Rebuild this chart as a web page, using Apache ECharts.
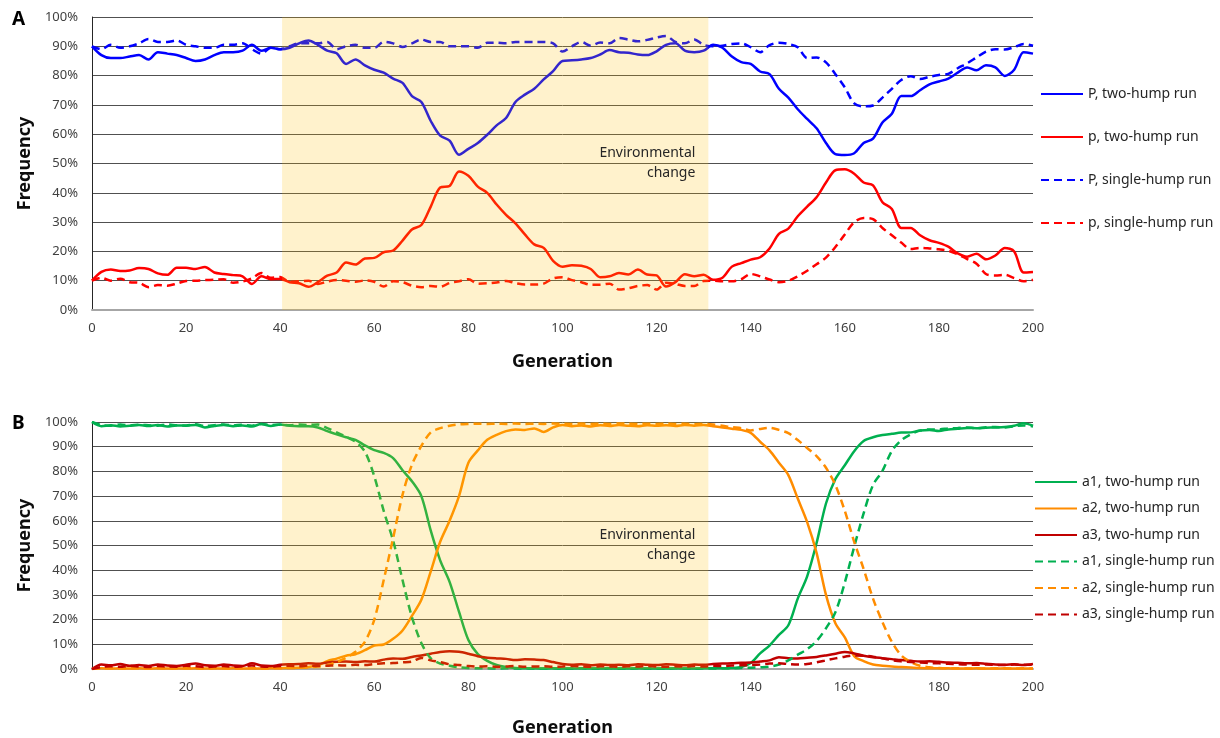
<!DOCTYPE html>
<html>
<head>
<meta charset="utf-8">
<script src="https://cdn.jsdelivr.net/npm/echarts@6/dist/echarts.min.js"></script>
<style>
html,body{margin:0;padding:0;background:#fff;}
#chart{width:1220px;height:738px;}
</style>
</head>
<body>
<div id="chart"></div>
<script>
// Generations sampled every 2 (0..200)
var generations = [];
for (var g = 0; g <= 200; g += 2) generations.push(g);

var xTicks = [0, 20, 40, 60, 80, 100, 120, 140, 160, 180, 200];
var envChange = [40.4, 131];

// Panel A
var P_two = [90, 87, 86, 86, 86.5, 87, 85.5, 88, 87.5, 87, 86, 85, 85.5, 87, 88, 88, 88.5, 90.5, 88.5, 89.5, 89,
  89.5, 91, 92, 90.5, 88.5, 87.6, 84, 85.5, 83.5, 82, 81, 79, 77.5, 73, 71, 64.5, 59.5, 57.8, 53, 55,
  57, 59.8, 63, 65.5, 71, 73.5, 75.5, 78.7, 81.5, 85, 85.2, 85.5, 86, 87.2, 88.7, 88, 87.8, 87.2, 87, 88.3,
  90.5, 91, 88.5, 88, 88.5, 90.5, 89.5, 86.5, 84.6, 84, 81.4, 80.5, 75.5, 72.5, 68.5, 65.2, 62, 57, 53.2, 52.9,
  53.5, 57, 58.5, 64, 67, 73, 73, 75, 77, 78, 79, 81, 82.8, 81.8, 83.5, 82.8, 79.9, 82, 88, 87.5];
var p_two = [10, 13, 13.8, 13.3, 13.5, 14.3, 14, 12.5, 12, 14.4, 14.4, 14, 14.7, 12.8, 12.3, 11.9, 11.5, 8.9, 11.5, 10.5, 10.6,
  9.5, 9.1, 7.9, 9.5, 11.7, 12.8, 16.2, 15.5, 17.6, 17.8, 19.7, 20.3, 23.7, 27.5, 29, 35.3, 41.8, 42.3, 47.3, 45.8,
  42.1, 40, 36, 32.5, 29.6, 25.8, 22.4, 21.2, 16.8, 14.8, 15.3, 15.1, 14, 11.2, 11.5, 12.6, 12.1, 13.8, 12.1, 11.8,
  8, 9.5, 12.2, 11.5, 12, 10.3, 11, 14.8, 16, 17.2, 18, 21, 26, 27.8, 32, 35.3, 38.5, 43.5, 47.7, 48,
  46.5, 43.5, 42.5, 36.8, 34.5, 28, 28, 25.5, 23.8, 22.9, 21.6, 19.3, 18.2, 19.2, 17.3, 18.6, 21.2, 20, 12.8, 13];
var P_single = [90, 89, 90.5, 89.5, 90, 91, 92.5, 91.5, 91.5, 92, 90.5, 90, 89.5, 89.5, 90.5, 90.5, 91, 89, 87.5, 89.5, 89,
  90, 91, 91, 91, 91.5, 89, 90, 90.5, 89.5, 89.5, 91.5, 91, 89.8, 91, 92.3, 91.5, 91.5, 90, 90, 90,
  89.5, 91.2, 91.2, 91, 91.5, 91.5, 91.5, 91.5, 91, 88.2, 90, 91.5, 90.2, 91.3, 91, 92.8, 92.3, 91.7, 92.2, 93,
  93.5, 91.5, 91, 92.3, 90.5, 90, 90.2, 90.8, 91, 89.7, 88, 90.4, 91.2, 90.8, 89.7, 86, 86.2, 84.5, 80.5, 76,
  70.5, 69.5, 69.8, 72.5, 75.5, 78.5, 79.8, 78.8, 79.6, 80.2, 80.6, 82.5, 84.2, 86.2, 88.2, 89, 88.9, 89.7, 90.8, 90.2];
var p_single = [10, 11, 10, 10.7, 9.5, 9.3, 7.8, 8.5, 8.3, 9, 9.9, 10, 10.2, 10.3, 10.5, 9.3, 9.7, 10.8, 12.6, 11, 11.3,
  9.6, 9.8, 10, 8.9, 9.7, 10.2, 10, 9.6, 10.1, 9.6, 8, 9.8, 9.5, 8.3, 7.8, 8.2, 7.9, 9.2, 9.8, 10.5,
  9, 9.1, 9.4, 9.9, 9.2, 8.7, 8.7, 9, 10.8, 11.2, 10.2, 9.5, 8.6, 8.6, 9, 7, 7.4, 8.2, 8.5, 7,
  9.3, 8.9, 8.2, 8.2, 9.9, 10, 9.8, 9.8, 10.5, 12.3, 11.5, 10.4, 9.5, 10, 11.5, 13.4, 15.6, 17.9, 21.5, 25.8,
  30, 31.4, 31, 28, 25.5, 23, 20.8, 21.2, 21, 20.7, 20.2, 19, 17.4, 15.8, 12.3, 11.8, 12, 10.9, 9.8, 10.3];

// Panel B
var a1_two = [100, 98.3, 98.7, 98.2, 98.5, 98.8, 98.4, 98.8, 98.2, 98.6, 98.5, 98.8, 97.8, 98.4, 98.8, 98.3, 98.6, 98.2, 99.2, 98.4, 99,
  98.5, 98.3, 98.3, 97.8, 96.3, 95, 93.8, 92.8, 90.5, 88.6, 87.5, 85.4, 80.5, 76, 70, 56, 44, 35.3, 23.2, 11.7,
  6, 3.3, 1.6, 0.8, 0.4, 0.3, 0.3, 0.2, 0.3, 0.2, 0.2, 0.3, 0.2, 0.2, 0.3, 0.2, 0.2, 0.3, 0.2, 0.2,
  0.2, 0.3, 0.2, 0.2, 0.3, 0.3, 0.3, 0.4, 0.8, 2.4, 6.3, 9.5, 13.8, 17.7, 28.5, 37.5, 51, 67, 76.9, 82.5,
  88.2, 92.3, 93.8, 94.7, 95.2, 95.7, 95.8, 96.6, 96.8, 96.4, 97, 97.3, 97.6, 97.5, 97.7, 97.8, 98, 98.5, 99.5, 98.5];
var a2_two = [0, 0.3, 0.2, 0.3, 0.2, 0.3, 0.2, 0.3, 0.2, 0.3, 0.2, 0.3, 0.2, 0.3, 0.2, 0.3, 0.2, 0.3, 0.2, 0.3, 0.3,
  0.4, 0.5, 0.8, 1.5, 3.2, 4.2, 5.4, 6, 7.6, 9.5, 9.9, 12.2, 15.6, 21.5, 28, 39.5, 51.5, 60, 70, 83.5,
  88.5, 92.8, 94.8, 96.3, 97, 96.8, 97.4, 96, 97.8, 98.8, 98.3, 98.6, 98.2, 98.7, 98.4, 98.8, 98.5, 98.3, 98.7, 98.5,
  98.7, 98.4, 98.8, 98.5, 98.8, 98.3, 97.8, 97.3, 96.8, 95.6, 92, 88.5, 83.5, 78.5, 69, 59.5, 47, 30, 18.5, 12.8,
  5.2, 3.2, 1.8, 1.3, 1, 0.8, 0.6, 0.4, 0.3, 0.3, 0.3, 0.2, 0.2, 0.3, 0.2, 0.2, 0.3, 0.2, 0.2, 0.2];
var a3_two = [0, 1.8, 1.5, 2, 1.3, 1.6, 1.2, 1.8, 1.4, 1.2, 1.7, 2.2, 1.5, 1.3, 1.8, 1.4, 1.2, 2.3, 1.4, 1.2, 1.7,
  1.9, 2, 2.3, 2.1, 2.6, 2.9, 3, 2.8, 3.1, 3, 3.8, 4.3, 4.1, 4.9, 5.5, 6.2, 6.9, 7.2, 7, 6.2,
  5.2, 4.6, 4.3, 4.1, 3.6, 3.9, 3.8, 3.6, 2.8, 2, 1.7, 1.9, 1.5, 1.8, 1.6, 1.7, 1.5, 1.9, 1.7, 1.6,
  1.9, 1.7, 1.5, 1.8, 1.7, 2, 2.2, 2.3, 2.5, 2.6, 3, 3.5, 4.8, 4.4, 4.3, 4.6, 4.9, 5.5, 6.2, 6.9,
  6.3, 5.4, 4.8, 4.4, 4, 3.6, 3.3, 3, 3.1, 2.9, 2.6, 2.5, 2.3, 2.4, 2.1, 1.8, 1.7, 1.9, 1.6, 2];
var a1_single = [100, 98.8, 98.5, 99, 98.6, 98.9, 98.7, 98.5, 99, 98.7, 98.6, 99.1, 98.4, 98.7, 99, 98.6, 98.9, 98.5, 99.2, 98.8, 98.9,
  98.7, 99, 98.8, 99, 97.5, 95.8, 94, 92, 88, 78, 64, 52, 36, 21, 10.5, 4.3, 2.2, 1.3, 0.7, 0.4,
  0.3, 0.3, 0.2, 0.3, 0.2, 0.3, 0.2, 0.2, 0.3, 0.2, 0.2, 0.3, 0.2, 0.2, 0.3, 0.2, 0.2, 0.3, 0.2, 0.2,
  0.2, 0.3, 0.2, 0.2, 0.3, 0.2, 0.3, 0.3, 0.4, 0.5, 0.7, 1, 1.8, 3.5, 5.8, 8, 11.3, 16.5, 23, 35,
  49.5, 63, 74.5, 80.2, 88.3, 92.6, 95, 96.5, 97, 97, 97.4, 97.6, 97.8, 97.5, 97.9, 98, 97.8, 98.3, 98.6, 98.2];
var a2_single = [0, 0.3, 0.3, 0.2, 0.3, 0.3, 0.2, 0.3, 0.3, 0.2, 0.3, 0.3, 0.2, 0.3, 0.3, 0.2, 0.3, 0.3, 0.2, 0.3, 0.3,
  0.4, 0.5, 0.7, 1, 1.5, 2.8, 4.5, 7, 11, 20, 36, 53, 70.5, 82.7, 90.3, 95.8, 97.5, 98.5, 99, 99.2,
  99.3, 99.2, 99.3, 99.2, 99.4, 99.2, 99.3, 99.2, 99.4, 99.3, 99.2, 99.4, 99.2, 99.3, 99.2, 99.4, 99.3, 99.2, 99.3, 99.2,
  99.3, 99.2, 99.3, 99.1, 99.2, 99, 98.5, 97.9, 97.5, 96.6, 97.2, 97.6, 96.8, 95.5, 92.7, 89.5, 86.2, 81.5, 74.5, 64,
  51.5, 40.5, 28.5, 19, 11, 5.5, 2.8, 1.3, 0.7, 0.4, 0.3, 0.3, 0.2, 0.3, 0.2, 0.3, 0.2, 0.2, 0.3, 0.2];
var a3_single = [0, 0.8, 1.1, 0.9, 1.3, 1, 0.8, 1.2, 1, 0.9, 1.3, 1.1, 0.8, 1, 1.2, 0.9, 1.1, 1.4, 1, 0.9, 1.2,
  1.3, 1.1, 1.4, 1.2, 1.3, 1.5, 1.4, 1.7, 1.6, 2, 2.3, 2.4, 2.7, 3, 4.5, 3.5, 2.8, 1.9, 1.6, 1.2,
  1, 1.1, 0.9, 1, 1.2, 0.9, 1, 1.1, 0.9, 1, 1.2, 1, 0.9, 1.1, 1, 0.9, 1.1, 1, 1.2, 1,
  0.9, 1.1, 1, 1.2, 1, 1.3, 1.2, 1.4, 1.5, 1.6, 1.8, 2.2, 2.3, 2, 1.8, 2, 2.7, 3.5, 4.3, 5,
  5.5, 5.4, 5, 4.3, 3.6, 3.1, 2.8, 2.6, 2.4, 2.3, 2.1, 1.9, 1.8, 1.7, 1.8, 1.7, 1.6, 1.8, 1.7, 1.7];

var legendA = ['P, two-hump run', 'p, two-hump run', 'P, single-hump run', 'p, single-hump run'];
var legendB = ['a1, two-hump run', 'a2, two-hump run', 'a3, two-hump run', 'a1, single-hump run', 'a2, single-hump run', 'a3, single-hump run'];

function pairs(vals) {
  return vals.map(function (v, i) { return [generations[i], v]; });
}
var FONT = 'Noto Sans';
function mkLine(name, vals, color, dashed, gi) {
  return {
    name: name, type: 'line', xAxisIndex: gi, yAxisIndex: gi,
    data: pairs(vals), symbol: 'none', smooth: 0.3,
    lineStyle: { color: color, width: 2.5, type: dashed ? [8, 5] : 'solid' },
    itemStyle: { color: color },
    emphasis: { disabled: true }, z: 2
  };
}
function overlay(gi) {
  return {
    type: 'line', xAxisIndex: gi, yAxisIndex: gi, data: [], silent: true,
    markArea: {
      silent: true, z: 10,
      itemStyle: { color: 'rgba(255,192,0,0.2)' },
      label: {
        show: true, position: 'insideRight', distance: 13,
        formatter: 'Environmental\nchange', color: '#262626',
        fontFamily: FONT, fontSize: 14, lineHeight: 20, align: 'right'
      },
      data: [[{ xAxis: envChange[0] }, { xAxis: envChange[1] }]]
    }
  };
}
function xAx(gi) {
  return {
    type: 'value', gridIndex: gi, min: 0, max: 200, interval: 20, z: 1,
    name: 'Generation', nameLocation: 'middle', nameGap: gi === 0 ? 43 : 50,
    nameTextStyle: { fontFamily: FONT, fontSize: 18, fontWeight: 'bold', color: '#0d0d0d' },
    axisLine: { show: true, onZero: false, lineStyle: { color: '#a6a6a6', width: 2 } },
    axisTick: { show: false },
    axisLabel: { fontFamily: FONT, fontSize: 13, color: '#404040', margin: 12,
      customValues: xTicks },
    splitLine: { show: false }
  };
}
function yAx(gi) {
  return {
    type: 'value', gridIndex: gi, min: 0, max: 100, interval: 10,
    name: 'Frequency', nameLocation: 'middle', nameGap: 54, nameRotate: 90,
    nameTextStyle: { fontFamily: FONT, fontSize: 18, fontWeight: 'bold', color: '#0d0d0d' },
    axisLine: { show: true, lineStyle: { color: '#262626', width: 1 } },
    axisTick: { show: false },
    axisLabel: { fontFamily: FONT, fontSize: 13, color: '#404040', margin: 14, formatter: '{value}%' },
    splitLine: { show: true, lineStyle: { color: '#505050', width: 1 } }
  };
}

var chart = echarts.init(document.getElementById('chart'));
chart.setOption({
  animation: false,
  backgroundColor: '#ffffff',
  grid: [
    { left: 92, top: 17, width: 941, height: 293 },
    { left: 92, top: 422, width: 941, height: 256 }
  ],
  xAxis: [xAx(0), xAx(1)],
  yAxis: [yAx(0), yAx(1)],
  legend: [
    { data: legendA, orient: 'vertical', left: 1040, top: 87, padding: 0, itemWidth: 42, itemHeight: 14, itemGap: 29,
      itemStyle: { opacity: 0 },
      textStyle: { fontFamily: FONT, fontSize: 14, color: '#262626' }, selectedMode: false },
    { data: legendB, orient: 'vertical', left: 1034, top: 475, padding: 0, itemWidth: 42, itemHeight: 14, itemGap: 12.5,
      itemStyle: { opacity: 0 },
      textStyle: { fontFamily: FONT, fontSize: 14, color: '#262626' }, selectedMode: false }
  ],
  graphic: [
    { type: 'text', left: 12, top: 10, style: { text: 'A', font: 'bold 19px "Noto Sans"', fill: '#000' } },
    { type: 'text', left: 12, top: 414, style: { text: 'B', font: 'bold 19px "Noto Sans"', fill: '#000' } }
  ],
  series: [
    mkLine(legendA[0], P_two, '#0000FF', false, 0),
    mkLine(legendA[1], p_two, '#FF0000', false, 0),
    mkLine(legendA[2], P_single, '#0000FF', true, 0),
    mkLine(legendA[3], p_single, '#FF0000', true, 0),
    overlay(0),
    mkLine(legendB[0], a1_two, '#00B050', false, 1),
    mkLine(legendB[1], a2_two, '#FF8C00', false, 1),
    mkLine(legendB[2], a3_two, '#C00000', false, 1),
    mkLine(legendB[3], a1_single, '#00B050', true, 1),
    mkLine(legendB[4], a2_single, '#FF8C00', true, 1),
    mkLine(legendB[5], a3_single, '#C00000', true, 1),
    overlay(1)
  ]
});
</script>
</body>
</html>
